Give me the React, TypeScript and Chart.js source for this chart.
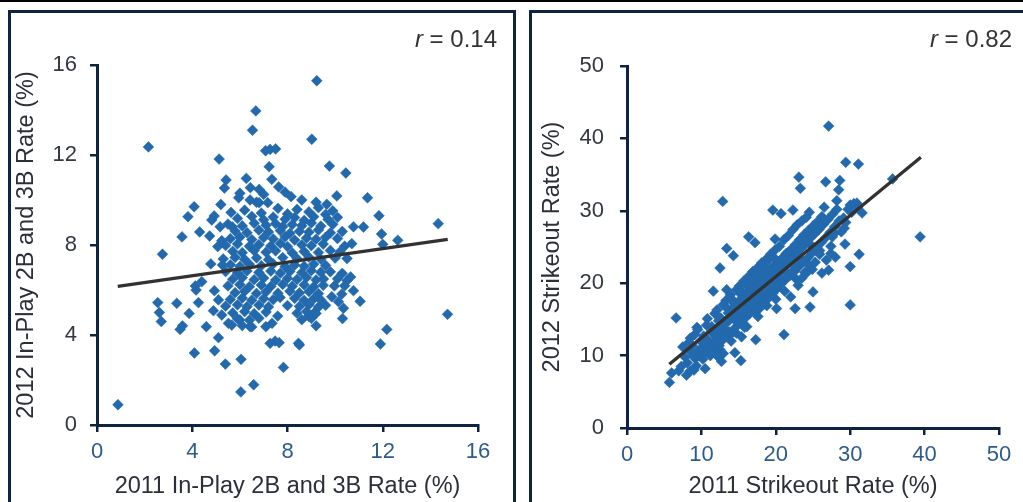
import { useEffect, useRef } from 'react';
import { Chart, registerables } from 'chart.js';

Chart.register(...registerables);

const FONT = '"Liberation Sans", Arial, sans-serif';
const NAVY = '#0d2340';
const DOT = '#2369ad';
const LINE = '#323232';
const TITLE_COLOR = '#2b2f38';
const YTICK_COLOR = '#333840';
const XTICK_COLOR = '#2d5b8c';

// ---------- Left panel: in-play 2B and 3B rate ----------
const hitOutliers: [number, number][] = [
  [9.23, 15.3], [6.67, 13.96], [6.53, 13.1], [9.02, 12.7], [2.16, 12.36], [7.08, 12.19], [7.27, 12.25], [7.5, 12.27],
  [5.13, 11.82], [7.23, 11.48], [9.76, 11.51], [10.45, 11.2], [6.27, 10.96], [5.42, 10.89], [7.34, 10.92], [5.35, 10.53],
  [6.44, 10.55], [6.81, 10.47], [7.63, 10.58], [8.15, 10.15], [10.07, 10.18], [11.36, 10.1], [5.95, 10.1], [6.43, 10.0],
  [6.81, 9.88], [7.17, 9.88], [4.08, 9.7], [9.65, 9.81], [5.63, 9.45], [3.82, 9.26], [4.92, 9.29], [4.82, 9.11],
  [11.84, 9.3], [14.33, 8.95], [5.17, 8.81], [5.68, 8.81], [3.57, 8.36], [4.31, 8.58], [4.73, 8.4], [11.95, 8.49],
  [10.77, 8.81], [11.19, 8.8], [12.63, 8.21], [12.0, 8.03], [5.24, 8.19], [5.07, 7.93], [2.75, 7.59], [4.78, 7.16],
  [5.27, 7.11], [4.13, 6.18], [4.4, 6.37], [4.16, 6.0], [4.93, 5.97], [2.55, 5.44], [2.62, 5.0], [2.7, 4.6],
  [3.35, 5.41], [3.87, 4.96], [4.26, 5.44], [3.49, 4.25], [3.59, 4.41], [4.59, 4.37], [5.1, 5.56], [4.89, 5.08],
  [5.1, 3.88], [4.09, 3.2], [4.94, 3.3], [5.39, 2.71], [6.05, 2.92], [6.04, 1.47], [6.58, 1.79], [7.83, 2.56],
  [7.27, 3.63], [7.48, 3.73], [7.65, 3.66], [8.46, 3.63], [8.5, 3.56], [9.2, 4.41], [10.31, 4.73], [11.9, 3.6],
  [12.17, 4.25], [14.72, 4.92], [0.88, 0.9], [11.05, 5.5], [10.77, 5.97], [9.97, 6.18], [9.51, 6.49], [10.28, 5.82],
  [10.35, 5.19], [9.86, 5.7], [10.14, 5.48], [7.09, 4.37], [7.35, 4.52], [7.59, 4.84], [7.69, 5.67], [8.89, 4.84],
  [9.12, 4.99], [6.0, 4.67], [6.43, 4.37], [5.52, 4.52], [5.66, 4.44], [5.24, 4.89],
];

const hitCluster: [number, number][] = [
  [6.2, 9.55], [6.9, 9.42], [7.6, 9.63], [8.0, 9.38], [8.4, 9.58], [8.9, 9.47], [9.3, 9.66], [9.6, 9.36], [9.9, 9.52],
  [5.9, 9.18], [6.5, 9.27], [7.0, 9.12], [7.4, 9.24], [7.9, 9.15], [8.3, 9.22], [8.7, 9.09], [9.1, 9.26], [9.7, 9.14], [10.1, 9.23],
  [5.5, 8.93], [6.1, 8.85], [6.6, 8.97], [7.1, 8.88], [7.5, 8.95], [7.8, 8.82], [8.2, 8.91], [8.6, 8.86], [9.0, 8.98], [9.4, 8.84], [9.9, 8.92],
  [5.8, 8.62], [6.3, 8.55], [6.8, 8.66], [7.2, 8.58], [7.7, 8.64], [8.1, 8.52], [8.5, 8.61], [8.9, 8.57], [9.3, 8.67], [9.8, 8.54], [10.3, 8.6],
  [5.6, 8.28], [6.0, 8.35], [6.5, 8.24], [7.0, 8.33], [7.4, 8.27], [7.9, 8.36], [8.3, 8.22], [8.8, 8.31], [9.2, 8.26], [9.6, 8.34], [10.1, 8.29],
  [5.4, 7.98], [5.9, 8.05], [6.4, 7.94], [6.8, 8.02], [7.3, 7.96], [7.7, 8.07], [8.0, 7.93], [8.6, 8.01], [9.0, 7.97], [9.5, 8.04], [10.4, 7.95], [10.7, 8.06],
  [5.7, 7.72], [6.1, 7.66], [6.6, 7.75], [7.1, 7.68], [7.5, 7.74], [8.2, 7.65], [8.7, 7.71], [9.3, 7.67], [9.8, 7.76], [10.2, 7.69],
  [5.3, 7.38], [5.8, 7.45], [6.2, 7.36], [6.7, 7.43], [7.2, 7.35], [7.8, 7.44], [8.4, 7.39], [8.9, 7.46], [9.4, 7.37], [10.0, 7.42], [10.5, 7.4],
  [5.6, 7.12], [6.0, 7.05], [6.4, 7.14], [6.9, 7.08], [7.4, 7.16], [7.9, 7.04], [8.3, 7.11], [8.7, 7.06], [9.1, 7.15], [9.6, 7.09],
  [5.4, 6.82], [5.9, 6.76], [6.3, 6.85], [6.8, 6.78], [7.3, 6.84], [7.7, 6.75], [8.1, 6.83], [8.6, 6.77], [9.0, 6.86], [9.4, 6.79], [9.8, 6.81], [10.3, 6.74],
  [5.7, 6.48], [6.1, 6.55], [6.6, 6.46], [7.0, 6.53], [7.5, 6.44], [8.0, 6.52], [8.4, 6.47], [8.8, 6.56], [9.2, 6.45], [10.1, 6.5], [10.5, 6.42], [10.65, 6.58],
  [5.5, 6.18], [6.0, 6.24], [6.4, 6.15], [6.9, 6.22], [7.3, 6.16], [7.8, 6.25], [8.2, 6.17], [8.7, 6.23], [9.1, 6.14], [9.5, 6.21], [10.4, 6.19],
  [5.8, 5.88], [6.2, 5.94], [6.7, 5.85], [7.1, 5.92], [7.6, 5.86], [8.1, 5.95], [8.5, 5.87], [8.9, 5.93], [9.3, 5.84],
  [5.6, 5.58], [6.1, 5.64], [6.5, 5.55], [7.0, 5.62], [7.4, 5.57], [8.3, 5.63], [8.7, 5.54], [9.1, 5.61], [9.4, 5.56],
  [5.4, 5.28], [5.9, 5.34], [6.3, 5.26], [6.8, 5.33], [7.2, 5.25], [8.0, 5.31], [8.5, 5.27], [8.9, 5.35], [9.3, 5.24], [9.6, 5.32],
  [5.7, 4.98], [6.2, 5.04], [6.6, 4.95], [7.1, 5.02], [8.4, 4.97], [8.8, 5.05], [9.2, 4.96],
  [5.9, 4.72], [6.4, 4.66], [6.8, 4.75], [8.6, 4.68], [9.0, 4.74],
  [6.1, 4.42], [6.5, 4.36],
  [6.0, 10.3], [7.0, 10.25], [7.9, 10.35], [5.2, 9.8], [6.7, 9.9], [8.6, 10.0], [9.2, 9.9],
];

const hitTrend: [number, number][] = [[0.87, 6.16], [14.73, 8.25]];
const hitAxisMax = 16;
const hitAxisStep = 4;

// ---------- Right panel: strikeout rate ----------
const kOutliers: [number, number][] = [
  [27.1, 41.7], [29.4, 36.7], [31.1, 36.45], [23.1, 34.65], [23.3, 33.1], [26.7, 34.0], [28.6, 34.2], [28.45, 32.9],
  [35.7, 34.4], [12.86, 31.3], [28.2, 31.4], [19.6, 30.1], [20.7, 29.6], [22.3, 30.1], [24.5, 29.8], [26.5, 30.5],
  [30.0, 30.8], [30.9, 31.06], [31.6, 29.7], [39.4, 26.4], [29.2, 27.6], [29.3, 25.4], [31.2, 24.0], [30.0, 22.3],
  [30.0, 17.0], [24.6, 16.7], [25.0, 18.8], [21.1, 12.9], [17.3, 12.2], [15.3, 9.3], [14.5, 10.4], [12.5, 22.1],
  [13.4, 24.8], [14.3, 23.8], [16.35, 26.4], [17.2, 25.6], [19.9, 26.1], [6.6, 15.2], [5.7, 6.3], [6.0, 7.6],
  [6.95, 7.9], [8.0, 7.3], [9.0, 8.0], [10.5, 8.2], [8.5, 12.4], [9.4, 13.9], [11.6, 18.9], [13.4, 19.1],
  [12.7, 9.2], [12.05, 10.1], [11.15, 10.8], [25.9, 24.5], [27.1, 21.8], [27.4, 24.1], [26.2, 21.4], [27.6, 26.4],
  [27.9, 26.9], [24.9, 21.9], [24.1, 21.4], [23.5, 20.7], [22.6, 16.5], [22.0, 18.1], [20.1, 16.5], [17.9, 17.2],
  [16.1, 14.0], [14.7, 13.1], [15.4, 12.6], [12.5, 10.8], [12.95, 10.3],
];

const kBand: [number, number][] = [
  [7.3, 8.5], [7.8, 9.8], [7.5, 11.2],
  [8.1, 9.0], [8.6, 10.5], [8.3, 11.8], [8.5, 7.9],
  [9.2, 9.6], [8.8, 11.4], [9.1, 12.9], [9.3, 8.6],
  [9.6, 10.2], [9.9, 12.0], [9.5, 13.6], [10.0, 11.0],
  [10.2, 9.5], [10.6, 11.3], [10.3, 12.7], [10.7, 14.2], [10.5, 10.6],
  [11.2, 10.0], [10.9, 12.1], [11.3, 13.3], [10.8, 15.1], [11.1, 11.5],
  [11.5, 10.9], [11.9, 12.6], [11.4, 14.0], [11.8, 15.8], [11.7, 13.2],
  [12.4, 11.4], [12.0, 13.1], [12.3, 14.8], [12.1, 16.3], [12.5, 12.4], [12.2, 9.9],
  [12.7, 12.0], [13.0, 13.7], [12.6, 15.2], [12.9, 17.0], [13.1, 14.3],
  [13.5, 12.6], [13.2, 14.4], [13.6, 15.9], [13.3, 17.6], [13.7, 13.3], [13.4, 16.6],
  [14.1, 13.1], [13.8, 14.9], [14.2, 16.5], [13.9, 18.4], [14.3, 15.5], [14.0, 12.0],
  [14.5, 13.8], [14.8, 15.6], [14.4, 17.2], [14.7, 19.1], [14.9, 16.3],
  [15.3, 14.5], [15.0, 16.1], [15.4, 17.9], [15.1, 19.6], [15.5, 15.0], [15.2, 18.6],
  [15.9, 15.2], [15.6, 16.9], [16.0, 18.4], [15.7, 20.3], [16.1, 17.5], [15.8, 13.9],
  [16.5, 15.8], [16.2, 17.5], [16.6, 19.1], [16.3, 20.9], [16.7, 18.2], [16.4, 16.6],
  [17.1, 16.3], [16.8, 18.1], [17.2, 19.8], [16.9, 21.6], [17.3, 17.3], [17.0, 20.4],
  [17.7, 17.0], [17.4, 18.7], [17.8, 20.3], [17.5, 22.1], [17.9, 19.5], [17.6, 15.4],
  [18.3, 17.6], [18.0, 19.3], [18.4, 21.0], [18.1, 22.8], [18.5, 20.2], [18.2, 18.5],
  [18.9, 18.1], [18.6, 19.9], [19.0, 21.6], [18.7, 23.3], [19.1, 20.8], [18.8, 16.9],
  [19.5, 18.8], [19.2, 20.5], [19.6, 22.2], [19.3, 24.0], [19.7, 21.4], [19.4, 19.5],
  [20.1, 19.2], [19.8, 21.1], [20.2, 22.8], [19.9, 24.6], [20.3, 20.3], [20.0, 17.8],
  [20.7, 19.9], [20.4, 21.7], [20.8, 23.4], [20.5, 25.1], [20.9, 22.5],
  [21.3, 20.5], [21.0, 22.3], [21.4, 24.1], [21.1, 26.0], [21.5, 21.4], [21.2, 18.9],
  [21.9, 21.1], [21.6, 22.9], [22.0, 24.6], [21.7, 26.6], [22.1, 23.8],
  [22.5, 21.6], [22.2, 23.5], [22.6, 25.3], [22.3, 27.4], [22.7, 20.6],
  [23.1, 22.3], [22.8, 24.2], [23.2, 26.0], [22.9, 28.1], [23.3, 23.2], [23.0, 19.7],
  [23.7, 23.0], [23.4, 24.8], [23.8, 26.7], [23.5, 28.6], [23.9, 21.5],
  [24.3, 23.5], [24.0, 25.4], [24.4, 27.3], [24.1, 29.1], [24.5, 22.4],
  [24.9, 24.2], [24.6, 26.2], [25.0, 27.9], [24.7, 25.3],
  [25.5, 24.9], [25.2, 26.8], [25.6, 28.5], [25.3, 22.9],
  [26.1, 25.6], [25.8, 27.4], [26.2, 29.2], [25.9, 24.0],
  [26.7, 26.3], [26.4, 28.1], [26.8, 23.2],
  [27.3, 27.0], [27.0, 28.8], [27.4, 25.1],
  [27.9, 27.8], [27.6, 29.5], [28.0, 23.6],
  [28.5, 28.6], [28.2, 30.2],
  [29.1, 29.0], [28.8, 27.1],
  [29.7, 30.2], [29.4, 28.4],
  [30.5, 31.0], [30.2, 29.8],
  [31.0, 30.5],
];

const kCore: [number, number][] = [
  [14.3, 16.0], [15.0, 17.1], [15.7, 17.9], [16.3, 18.7], [16.9, 19.2], [17.5, 20.0], [18.1, 20.7], [18.7, 21.3],
  [19.3, 22.0], [19.9, 22.4], [20.5, 23.0], [21.1, 23.6], [21.7, 24.3],
  [14.8, 14.6], [15.5, 15.7], [16.1, 16.3], [16.8, 17.0], [17.4, 17.8], [18.0, 18.3], [18.6, 19.0], [19.2, 19.9],
  [19.8, 20.6], [20.4, 21.2], [21.0, 21.9], [21.6, 22.6],
  [13.6, 15.0], [14.2, 17.7], [15.4, 18.9], [16.0, 19.8], [16.7, 20.3], [17.3, 21.1], [17.9, 21.9], [18.5, 22.4],
  [19.1, 23.3], [19.7, 23.6],
  [12.4, 13.6], [13.0, 12.8], [11.6, 11.6], [10.9, 11.0], [10.2, 10.1], [9.5, 10.6], [8.9, 9.9],
  [17.7, 16.4], [18.4, 17.1], [19.0, 17.9], [19.6, 18.6], [20.3, 19.5], [20.9, 20.2], [21.5, 20.8], [22.1, 21.5],
  [22.7, 22.2], [23.3, 23.1],
];

const kTrend: [number, number][] = [[5.69, 8.8], [39.5, 37.4]];
const kAxisMax = 50;
const kAxisStep = 10;

type PanelCfg = {
  points: [number, number][];
  trend: [number, number][];
  max: number;
  step: number;
  xTitle: string;
  yTitle: string;
  left: number;
  top: number;
  width: number;
  height: number;
  padTop: number;
  padRight: number;
  yAxisWidth: number;
  xAxisHeight: number;
  yTickPad: number;
  yTitlePad: number;
  xTickPad: number;
  xTitlePad: number;
};

function ScatterPanel(cfg: PanelCfg) {
  const ref = useRef<HTMLCanvasElement | null>(null);
  useEffect(() => {
    if (!ref.current) return;
    const toXY = (arr: [number, number][]) => arr.map(([x, y]) => ({ x, y }));
    const chart = new Chart(ref.current, {
      type: 'scatter',
      data: {
        datasets: [
          {
            type: 'line',
            data: toXY(cfg.trend),
            borderColor: LINE,
            borderWidth: 3.4,
            pointRadius: 0,
            fill: false,
            order: 0,
          } as any,
          {
            type: 'scatter',
            data: toXY(cfg.points),
            pointStyle: 'rectRot',
            pointRadius: 5.4,
            pointBackgroundColor: DOT,
            pointBorderColor: DOT,
            pointBorderWidth: 0.5,
            order: 1,
          },
        ],
      },
      options: {
        animation: false,
        responsive: false,
        maintainAspectRatio: false,
        layout: { padding: { top: cfg.padTop, right: cfg.padRight, left: 0, bottom: 0 } },
        plugins: { legend: { display: false }, tooltip: { enabled: false } },
        scales: {
          x: {
            type: 'linear',
            min: 0,
            max: cfg.max,
            afterFit: (s: any) => { s.height = cfg.xAxisHeight; },
            ticks: { stepSize: cfg.step, color: XTICK_COLOR, font: { family: FONT, size: 22 }, padding: cfg.xTickPad, maxRotation: 0 },
            grid: { drawOnChartArea: false, drawTicks: true, tickLength: 7, color: NAVY, lineWidth: 2.5 },
            border: { color: NAVY, width: 3 },
            title: { display: true, text: cfg.xTitle, color: TITLE_COLOR, font: { family: FONT, size: 23.5 }, padding: { top: 0, bottom: cfg.xTitlePad } },
          },
          y: {
            type: 'linear',
            min: 0,
            max: cfg.max,
            afterFit: (s: any) => { s.width = cfg.yAxisWidth; },
            ticks: { stepSize: cfg.step, color: YTICK_COLOR, font: { family: FONT, size: 22 }, padding: cfg.yTickPad },
            grid: { drawOnChartArea: false, drawTicks: true, tickLength: 7, color: NAVY, lineWidth: 2.5 },
            border: { color: NAVY, width: 3 },
            title: { display: true, text: cfg.yTitle, color: TITLE_COLOR, font: { family: FONT, size: 23.5 }, padding: { top: cfg.yTitlePad, bottom: 0 } },
          },
        },
      },
    });
    return () => chart.destroy();
  }, []);
  return (
    <canvas
      ref={ref}
      width={cfg.width}
      height={cfg.height}
      style={{ position: 'absolute', left: cfg.left, top: cfg.top, width: cfg.width, height: cfg.height }}
    />
  );
}

const rStyle: any = {
  position: 'absolute',
  fontFamily: FONT,
  fontSize: 24,
  lineHeight: '24px',
  color: '#333',
  textAlign: 'right',
  whiteSpace: 'pre',
};

export default function App() {
  return (
    <div style={{ position: 'absolute', left: 0, top: 0, width: 1023, height: 502, background: '#fff', overflow: 'hidden' }}>
      <div style={{ position: 'absolute', left: 0, top: 0, width: 1023, height: 2, background: '#000' }} />
      <div style={{ position: 'absolute', left: 8, top: 10, width: 508, height: 520, boxSizing: 'border-box', border: `3px solid ${NAVY}` }} />
      <div style={{ position: 'absolute', left: 529, top: 10, width: 520, height: 520, boxSizing: 'border-box', border: `3px solid ${NAVY}` }} />
      <ScatterPanel
        points={[...hitOutliers, ...hitCluster]}
        trend={hitTrend}
        max={hitAxisMax}
        step={hitAxisStep}
        xTitle="2011 In-Play 2B and 3B Rate (%)"
        yTitle="2012 In-Play 2B and 3B Rate (%)"
        left={12}
        top={14}
        width={500}
        height={488}
        padTop={51}
        padRight={34}
        yAxisWidth={85}
        xAxisHeight={77}
        yTickPad={13}
        yTitlePad={0}
        xTickPad={7}
        xTitlePad={1}
      />
      <ScatterPanel
        points={[...kOutliers, ...kBand, ...kCore]}
        trend={kTrend}
        max={kAxisMax}
        step={kAxisStep}
        xTitle="2011 Strikeout Rate (%)"
        yTitle="2012 Strikeout Rate (%)"
        left={533}
        top={14}
        width={490}
        height={488}
        padTop={52}
        padRight={24}
        yAxisWidth={94}
        xAxisHeight={74}
        yTickPad={16}
        yTitlePad={5}
        xTickPad={7}
        xTitlePad={1}
      />
      <div style={{ ...rStyle, left: 300, width: 197, top: 27 }}><i>r</i> = 0.14</div>
      <div style={{ ...rStyle, left: 815, width: 197, top: 27 }}><i>r</i> = 0.82</div>
    </div>
  );
}
